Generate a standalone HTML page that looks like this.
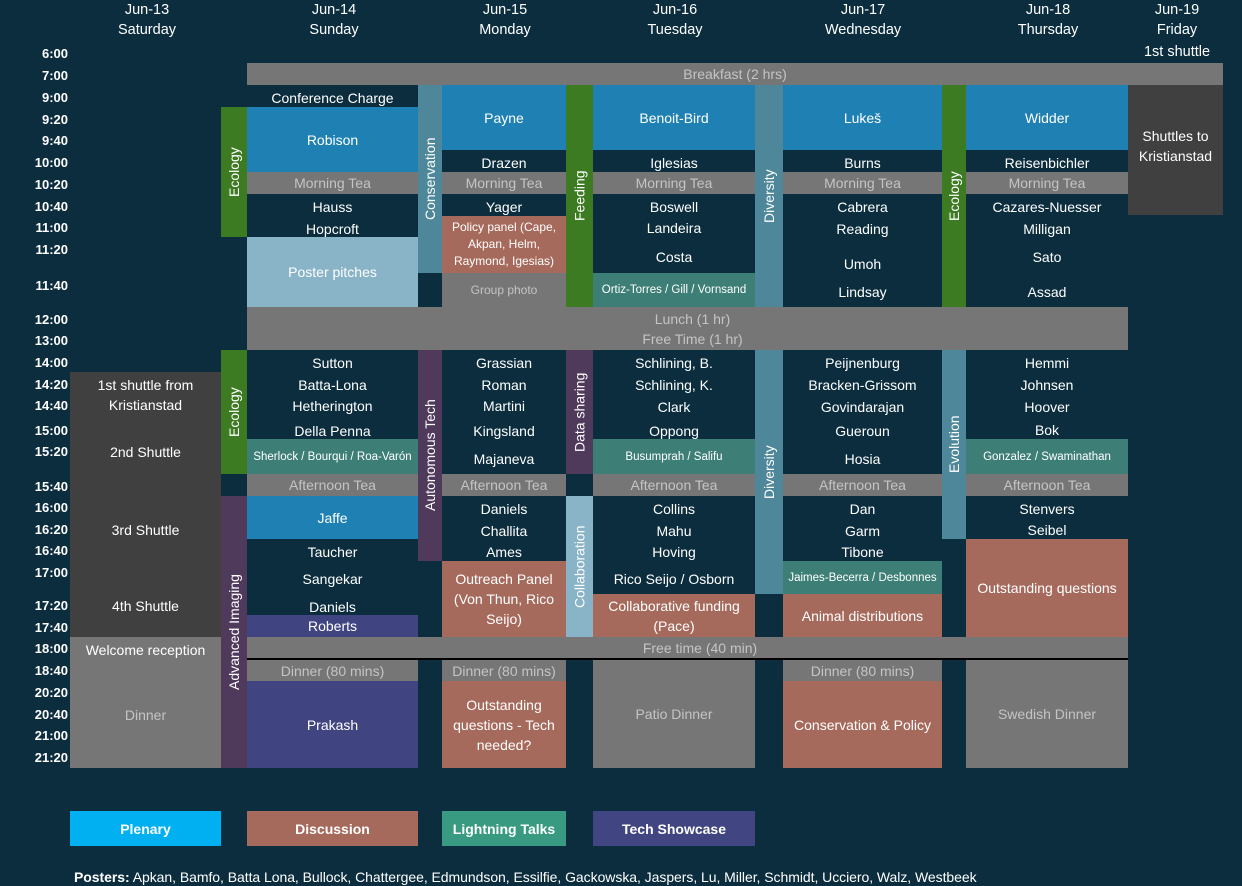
<!DOCTYPE html>
<html><head><meta charset="utf-8">
<style>
body{margin:0;width:1242px;height:886px;background:#0b2d3e;overflow:hidden;font-family:"Liberation Sans",sans-serif;}
.b{position:absolute;display:flex;align-items:center;justify-content:center;text-align:center;color:#fff;font-size:14px;line-height:20px;box-sizing:border-box;white-space:nowrap}
.w{white-space:normal;padding:0 4px}
.g{background:#767676;color:#c4c4c4}
.p{background:#1f81b3}
.d{background:#a66a5c}
.l{background:#3d7f76;font-size:11.5px}
.k{background:#404040}
.tu{background:#404582}
.v{writing-mode:vertical-rl;transform:rotate(180deg);font-size:14px}
.t{position:absolute;left:0;width:68px;text-align:right;color:#fff;font-weight:bold;font-size:13px;height:20px;line-height:20px}
.h{position:absolute;color:#fff;font-size:14.5px;text-align:center;width:160px}
</style></head><body>
<!-- headers -->
<div class="h" style="left:67px;top:2px">Jun-13</div><div class="h" style="left:67px;top:22px">Saturday</div>
<div class="h" style="left:254px;top:2px">Jun-14</div><div class="h" style="left:254px;top:22px">Sunday</div>
<div class="h" style="left:425px;top:2px">Jun-15</div><div class="h" style="left:425px;top:22px">Monday</div>
<div class="h" style="left:595px;top:2px">Jun-16</div><div class="h" style="left:595px;top:22px">Tuesday</div>
<div class="h" style="left:783px;top:2px">Jun-17</div><div class="h" style="left:783px;top:22px">Wednesday</div>
<div class="h" style="left:968px;top:2px">Jun-18</div><div class="h" style="left:968px;top:22px">Thursday</div>
<div class="h" style="left:1097px;top:2px">Jun-19</div><div class="h" style="left:1097px;top:22px">Friday</div>
<div class="h" style="left:1097px;top:44px">1st shuttle</div>
<!-- times -->
<div class="t" style="top:44px">6:00</div><div class="t" style="top:66px">7:00</div><div class="t" style="top:88px">9:00</div>
<div class="t" style="top:110px">9:20</div><div class="t" style="top:131px">9:40</div><div class="t" style="top:153px">10:00</div>
<div class="t" style="top:175px">10:20</div><div class="t" style="top:197px">10:40</div><div class="t" style="top:218px">11:00</div>
<div class="t" style="top:240px">11:20</div><div class="t" style="top:276px">11:40</div><div class="t" style="top:310px">12:00</div>
<div class="t" style="top:331px">13:00</div><div class="t" style="top:353px">14:00</div><div class="t" style="top:375px">14:20</div>
<div class="t" style="top:396px">14:40</div><div class="t" style="top:421px">15:00</div><div class="t" style="top:442px">15:20</div>
<div class="t" style="top:477px">15:40</div><div class="t" style="top:498px">16:00</div><div class="t" style="top:520px">16:20</div>
<div class="t" style="top:541px">16:40</div><div class="t" style="top:563px">17:00</div><div class="t" style="top:596px">17:20</div>
<div class="t" style="top:618px">17:40</div><div class="t" style="top:639px">18:00</div><div class="t" style="top:661px">18:40</div>
<div class="t" style="top:683px">20:20</div><div class="t" style="top:705px">20:40</div><div class="t" style="top:726px">21:00</div>
<div class="t" style="top:748px">21:20</div>

<!-- common bars -->
<div class="b g" style="left:247px;top:63px;width:976px;height:22px">Breakfast (2 hrs)</div>
<div class="b g" style="left:247px;top:307px;width:881px;height:43px;flex-direction:column;padding-left:10px"><div>Lunch (1 hr)</div><div>Free Time (1 hr)</div></div>
<div class="b g" style="left:247px;top:637px;width:881px;height:21px;padding-left:25px">Free time (40 min)</div>
<div style="position:absolute;left:247px;top:658px;width:881px;height:2px;background:#000"></div>

<!-- Saturday -->
<div class="b k w" style="left:70px;top:372px;width:151px;height:265px;display:block"></div>
<div class="b" style="left:70px;top:374px;width:151px;height:42px;flex-direction:column"><div>1st shuttle from</div><div>Kristianstad</div></div>
<div class="b" style="left:70px;top:442px;width:151px;height:20px">2nd Shuttle</div>
<div class="b" style="left:70px;top:520px;width:151px;height:20px">3rd Shuttle</div>
<div class="b" style="left:70px;top:596px;width:151px;height:20px">4th Shuttle</div>
<div class="b g" style="left:70px;top:637px;width:151px;height:131px;display:block"></div>
<div class="b" style="left:70px;top:640px;width:151px;height:20px">Welcome reception</div>
<div class="b" style="left:70px;top:705px;width:151px;height:20px;color:#c4c4c4">Dinner</div>

<!-- Sunday -->
<div class="b v" style="left:221px;top:107px;width:26px;height:130px;background:#3d7b22">Ecology</div>
<div class="b" style="left:247px;top:88px;width:171px;height:20px">Conference Charge</div>
<div class="b p" style="left:247px;top:107px;width:171px;height:65px">Robison</div>
<div class="b g" style="left:247px;top:172px;width:171px;height:22px">Morning Tea</div>
<div class="b" style="left:247px;top:197px;width:171px;height:20px">Hauss</div>
<div class="b" style="left:247px;top:219px;width:171px;height:20px">Hopcroft</div>
<div class="b" style="left:247px;top:237px;width:171px;height:70px;background:#89b3c7">Poster pitches</div>
<div class="b v" style="left:221px;top:350px;width:26px;height:124px;background:#3d7b22">Ecology</div>
<div class="b" style="left:247px;top:353px;width:171px;height:20px">Sutton</div>
<div class="b" style="left:247px;top:375px;width:171px;height:20px">Batta-Lona</div>
<div class="b" style="left:247px;top:396px;width:171px;height:20px">Hetherington</div>
<div class="b" style="left:247px;top:421px;width:171px;height:20px">Della Penna</div>
<div class="b l" style="left:247px;top:439px;width:171px;height:35px">Sherlock / Bourqui / Roa-Varón</div>
<div class="b g" style="left:247px;top:474px;width:171px;height:22px">Afternoon Tea</div>
<div class="b v" style="left:221px;top:496px;width:26px;height:272px;background:#4f3a5c">Advanced Imaging</div>
<div class="b p" style="left:247px;top:496px;width:171px;height:43px">Jaffe</div>
<div class="b" style="left:247px;top:542px;width:171px;height:20px">Taucher</div>
<div class="b" style="left:247px;top:569px;width:171px;height:20px">Sangekar</div>
<div class="b" style="left:247px;top:597px;width:171px;height:20px">Daniels</div>
<div class="b tu" style="left:247px;top:615px;width:171px;height:22px">Roberts</div>
<div class="b g" style="left:247px;top:660px;width:171px;height:21px">Dinner (80 mins)</div>
<div class="b tu" style="left:247px;top:681px;width:171px;height:87px">Prakash</div>

<!-- Monday -->
<div class="b v" style="left:418px;top:85px;width:24px;height:188px;background:#4e8799">Conservation</div>
<div class="b p" style="left:442px;top:85px;width:124px;height:65px">Payne</div>
<div class="b" style="left:442px;top:153px;width:124px;height:20px">Drazen</div>
<div class="b g" style="left:442px;top:172px;width:124px;height:22px">Morning Tea</div>
<div class="b" style="left:442px;top:197px;width:124px;height:20px">Yager</div>
<div class="b d w" style="left:442px;top:216px;width:124px;height:57px;font-size:12px;line-height:17px">Policy panel (Cape, Akpan, Helm, Raymond, Igesias)</div>
<div class="b g" style="left:442px;top:273px;width:124px;height:34px;font-size:12px">Group photo</div>
<div class="b v" style="left:418px;top:350px;width:24px;height:211px;background:#4f3a5c">Autonomous Tech</div>
<div class="b" style="left:442px;top:353px;width:124px;height:20px">Grassian</div>
<div class="b" style="left:442px;top:375px;width:124px;height:20px">Roman</div>
<div class="b" style="left:442px;top:396px;width:124px;height:20px">Martini</div>
<div class="b" style="left:442px;top:421px;width:124px;height:20px">Kingsland</div>
<div class="b" style="left:442px;top:449px;width:124px;height:20px">Majaneva</div>
<div class="b g" style="left:442px;top:474px;width:124px;height:22px">Afternoon Tea</div>
<div class="b" style="left:442px;top:499px;width:124px;height:20px">Daniels</div>
<div class="b" style="left:442px;top:521px;width:124px;height:20px">Challita</div>
<div class="b" style="left:442px;top:542px;width:124px;height:20px">Ames</div>
<div class="b d w" style="left:442px;top:561px;width:124px;height:76px">Outreach Panel (Von Thun, Rico Seijo)</div>
<div class="b g" style="left:442px;top:660px;width:124px;height:21px">Dinner (80 mins)</div>
<div class="b d w" style="left:442px;top:681px;width:124px;height:87px">Outstanding questions - Tech needed?</div>

<!-- Tuesday -->
<div class="b v" style="left:566px;top:85px;width:27px;height:222px;background:#3d7b22">Feeding</div>
<div class="b p" style="left:593px;top:85px;width:162px;height:65px">Benoit-Bird</div>
<div class="b" style="left:593px;top:153px;width:162px;height:20px">Iglesias</div>
<div class="b g" style="left:593px;top:172px;width:162px;height:22px">Morning Tea</div>
<div class="b" style="left:593px;top:197px;width:162px;height:20px">Boswell</div>
<div class="b" style="left:593px;top:218px;width:162px;height:20px">Landeira</div>
<div class="b" style="left:593px;top:247px;width:162px;height:20px">Costa</div>
<div class="b l" style="left:593px;top:273px;width:162px;height:34px">Ortiz-Torres / Gill / Vornsand</div>
<div class="b v" style="left:566px;top:350px;width:27px;height:124px;background:#4f3a5c">Data sharing</div>
<div class="b" style="left:593px;top:353px;width:162px;height:20px">Schlining, B.</div>
<div class="b" style="left:593px;top:375px;width:162px;height:20px">Schlining, K.</div>
<div class="b" style="left:593px;top:397px;width:162px;height:20px">Clark</div>
<div class="b" style="left:593px;top:421px;width:162px;height:20px">Oppong</div>
<div class="b l" style="left:593px;top:439px;width:162px;height:35px">Busumprah / Salifu</div>
<div class="b g" style="left:593px;top:474px;width:162px;height:22px">Afternoon Tea</div>
<div class="b v" style="left:566px;top:496px;width:27px;height:141px;background:#89b3c7">Collaboration</div>
<div class="b" style="left:593px;top:499px;width:162px;height:20px">Collins</div>
<div class="b" style="left:593px;top:521px;width:162px;height:20px">Mahu</div>
<div class="b" style="left:593px;top:542px;width:162px;height:20px">Hoving</div>
<div class="b" style="left:593px;top:569px;width:162px;height:20px">Rico Seijo / Osborn</div>
<div class="b d w" style="left:593px;top:594px;width:162px;height:43px">Collaborative funding (Pace)</div>
<div class="b g" style="left:593px;top:660px;width:162px;height:108px">Patio Dinner</div>

<!-- Wednesday -->
<div class="b v" style="left:755px;top:85px;width:28px;height:222px;background:#4e8799">Diversity</div>
<div class="b p" style="left:783px;top:85px;width:159px;height:65px">Lukeš</div>
<div class="b" style="left:783px;top:153px;width:159px;height:20px">Burns</div>
<div class="b g" style="left:783px;top:172px;width:159px;height:22px">Morning Tea</div>
<div class="b" style="left:783px;top:197px;width:159px;height:20px">Cabrera</div>
<div class="b" style="left:783px;top:219px;width:159px;height:20px">Reading</div>
<div class="b" style="left:783px;top:254px;width:159px;height:20px">Umoh</div>
<div class="b" style="left:783px;top:282px;width:159px;height:20px">Lindsay</div>
<div class="b v" style="left:755px;top:350px;width:28px;height:244px;background:#4e8799">Diversity</div>
<div class="b" style="left:783px;top:353px;width:159px;height:20px">Peijnenburg</div>
<div class="b" style="left:783px;top:375px;width:159px;height:20px">Bracken-Grissom</div>
<div class="b" style="left:783px;top:397px;width:159px;height:20px">Govindarajan</div>
<div class="b" style="left:783px;top:421px;width:159px;height:20px">Gueroun</div>
<div class="b" style="left:783px;top:449px;width:159px;height:20px">Hosia</div>
<div class="b g" style="left:783px;top:474px;width:159px;height:22px">Afternoon Tea</div>
<div class="b" style="left:783px;top:499px;width:159px;height:20px">Dan</div>
<div class="b" style="left:783px;top:521px;width:159px;height:20px">Garm</div>
<div class="b" style="left:783px;top:542px;width:159px;height:20px">Tibone</div>
<div class="b l" style="left:783px;top:561px;width:159px;height:33px">Jaimes-Becerra / Desbonnes</div>
<div class="b d" style="left:783px;top:594px;width:159px;height:43px">Animal distributions</div>
<div class="b g" style="left:783px;top:660px;width:159px;height:21px">Dinner (80 mins)</div>
<div class="b d" style="left:783px;top:681px;width:159px;height:87px">Conservation &amp; Policy</div>

<!-- Thursday -->
<div class="b v" style="left:942px;top:85px;width:24px;height:222px;background:#3d7b22">Ecology</div>
<div class="b p" style="left:966px;top:85px;width:162px;height:65px">Widder</div>
<div class="b" style="left:966px;top:153px;width:162px;height:20px">Reisenbichler</div>
<div class="b g" style="left:966px;top:172px;width:162px;height:22px">Morning Tea</div>
<div class="b" style="left:966px;top:197px;width:162px;height:20px">Cazares-Nuesser</div>
<div class="b" style="left:966px;top:219px;width:162px;height:20px">Milligan</div>
<div class="b" style="left:966px;top:247px;width:162px;height:20px">Sato</div>
<div class="b" style="left:966px;top:282px;width:162px;height:20px">Assad</div>
<div class="b v" style="left:942px;top:350px;width:24px;height:189px;background:#4e8799">Evolution</div>
<div class="b" style="left:966px;top:353px;width:162px;height:20px">Hemmi</div>
<div class="b" style="left:966px;top:375px;width:162px;height:20px">Johnsen</div>
<div class="b" style="left:966px;top:397px;width:162px;height:20px">Hoover</div>
<div class="b" style="left:966px;top:420px;width:162px;height:20px">Bok</div>
<div class="b l" style="left:966px;top:439px;width:162px;height:35px">Gonzalez / Swaminathan</div>
<div class="b g" style="left:966px;top:474px;width:162px;height:22px">Afternoon Tea</div>
<div class="b" style="left:966px;top:499px;width:162px;height:20px">Stenvers</div>
<div class="b" style="left:966px;top:520px;width:162px;height:20px">Seibel</div>
<div class="b d" style="left:966px;top:539px;width:162px;height:98px">Outstanding questions</div>
<div class="b g" style="left:966px;top:660px;width:162px;height:108px">Swedish Dinner</div>

<!-- Friday -->
<div class="b k w" style="left:1128px;top:85px;width:95px;height:130px;padding-bottom:8px">Shuttles to Kristianstad</div>

<!-- legend -->
<div class="b" style="left:70px;top:811px;width:151px;height:35px;background:#00b0f0;font-weight:bold">Plenary</div>
<div class="b" style="left:247px;top:811px;width:171px;height:35px;background:#a66a5c;font-weight:bold">Discussion</div>
<div class="b" style="left:442px;top:811px;width:124px;height:35px;background:#389a80;font-weight:bold">Lightning Talks</div>
<div class="b" style="left:593px;top:811px;width:162px;height:35px;background:#414682;font-weight:bold">Tech Showcase</div>
<div style="position:absolute;left:74px;top:869px;color:#fff;font-size:14px;white-space:nowrap;letter-spacing:-0.05px"><b>Posters:</b> Apkan, Bamfo, Batta Lona, Bullock, Chattergee, Edmundson, Essilfie, Gackowska, Jaspers, Lu, Miller, Schmidt, Ucciero, Walz, Westbeek</div>
</body></html>
